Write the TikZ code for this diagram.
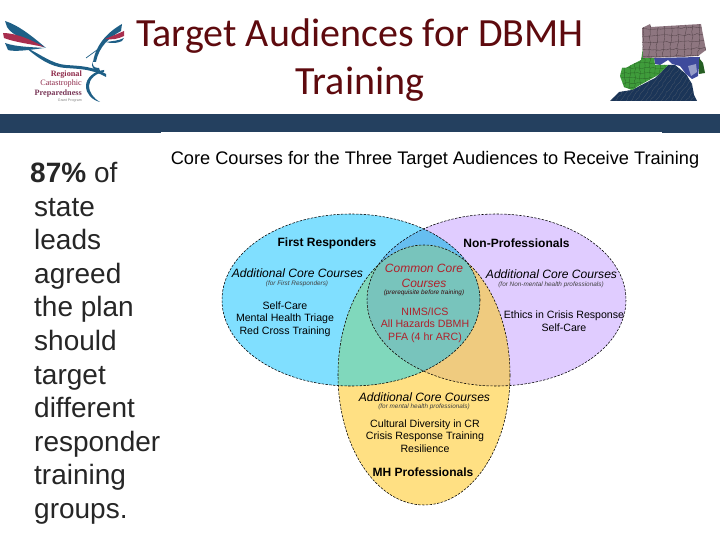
\documentclass[tikz,border=0pt]{standalone}
\usepackage{fontspec}
\setmainfont{Liberation Sans}
\newfontfamily\titlefont{Carlito}
\newfontfamily\logofont{Liberation Serif}
\usetikzlibrary{decorations.pathmorphing}
\definecolor{barblue}{HTML}{24405F}
\definecolor{titlered}{HTML}{5E0A0E}
\definecolor{cyanset}{HTML}{80DFFF}
\definecolor{purpset}{HTML}{E0CCFF}
\definecolor{yelset}{HTML}{FFE083}
\definecolor{lrset}{HTML}{66BEF0}
\definecolor{lbset}{HTML}{80D8BC}
\definecolor{rbset}{HTML}{EFCB7F}
\definecolor{allset}{HTML}{78C4BC}
\definecolor{corered}{HTML}{B0202A}
\definecolor{birdblue}{HTML}{1E5F86}
\definecolor{birdred}{HTML}{A82E4E}
\definecolor{logored}{HTML}{8E2A4A}
\definecolor{pabrown}{HTML}{8E7680}
\definecolor{countyline}{HTML}{54444A}
\definecolor{wvgreen}{HTML}{3F9C3B}
\definecolor{vanavy}{HTML}{1B3558}
\definecolor{mdblue}{HTML}{3E4A9C}
\tikzset{
  ringline/.style={draw=black,line width=0.55pt,dash pattern=on 2.4pt off 1.4pt},
  lab/.style={inner sep=0pt,text=black,font=\fontsize{10.6}{12.6}\selectfont,align=center},
  headlab/.style={inner sep=0pt,text=black,font=\bfseries\fontsize{12}{13}\selectfont},
  addlab/.style={inner sep=0pt,text=black,font=\itshape\fontsize{12.1}{13}\selectfont},
  tinylab/.style={inner sep=0pt,text=black!75,font=\itshape\fontsize{6.4}{7}\selectfont},
  redlab/.style={inner sep=0pt,text=corered,font=\fontsize{10.6}{12.6}\selectfont,align=center},
  wing/.style={fill=birdblue,draw=none},
  wingred/.style={fill=birdred,draw=none},
  county/.style={draw=countyline,line width=0.35pt,decorate,decoration={random steps,segment length=3pt,amplitude=0.8pt}},
}
\begin{document}
\begin{tikzpicture}[x=1pt,y=-1pt]
\useasboundingbox (0,0) rectangle (720,540);
\fill[white] (0,0) rectangle (720,540);
% top bar
\fill[barblue] (0,114) rectangle (720,133);
\fill[white] (161,132) rectangle (662,134);
% title
\node[inner sep=0pt,text=titlered,align=center,font=\titlefont\fontsize{40}{48}\selectfont] (title) at (360,60) {Target Audiences for DBMH\\Training};
% body
\node[inner sep=0pt,anchor=north west,align=left,text=black!85,font=\fontsize{28}{33.6}\selectfont] (body) at (34,162) {\hspace*{-4pt}\textbf{87\%} of\\state\\leads\\agreed\\the plan\\should\\target\\different\\responder\\training\\groups.};
% heading
\node[inner sep=0pt,text=black,font=\fontsize{18.2}{20}\selectfont] (head) at (435,160) {Core Courses for the Three Target Audiences to Receive Training};
% venn
\def\setL{(351,300) ellipse [x radius=129,y radius=86]}
\def\setR{(496.5,300) ellipse [x radius=129.5,y radius=86]}
\def\setB{(424,375) ellipse [x radius=86,y radius=130]}
\fill[cyanset] \setL;
\fill[purpset] \setR;
\fill[yelset] \setB;
\begin{scope}\clip \setL; \fill[lrset] \setR; \fill[lbset] \setB; \end{scope}
\begin{scope}\clip \setR; \fill[rbset] \setB; \end{scope}
\begin{scope}\clip \setL; \clip \setR; \fill[allset] \setB; \end{scope}
\draw[ringline] \setL;
\draw[ringline] \setR;
\draw[ringline] \setB;
% venn labels
\node[headlab] (fr) at (327,243) {First Responders};
\node[headlab] (np) at (516.5,243) {Non-Professionals};
\node[addlab] (acl) at (297.5,273) {Additional Core Courses};
\node[tinylab] (acls) at (297,284) {(for First Responders)};
\node[lab] (lefttxt) at (285,319) {Self-Care\\Mental Health Triage\\Red Cross Training};
\node[addlab] (acr) at (551.5,274) {Additional Core Courses};
\node[tinylab] (acrs) at (551,285) {(for Non-mental health professionals)};
\node[lab] (righttxt) at (564,321) {Ethics in Crisis Response\\Self-Care};
\node[inner sep=0pt,text=corered,align=center,font=\itshape\fontsize{12}{15}\selectfont] (cc) at (424,276) {Common Core\\Courses};
\node[tinylab,text=black!70!corered] (ccs) at (424,293) {(prerequisite before training)};
\node[redlab] (nims) at (425,325) {NIMS/ICS\\All Hazards DBMH\\PFA (4 hr ARC)};
\node[addlab] (acb) at (424.5,397) {Additional Core Courses};
\node[tinylab] (acbs) at (424,407) {(for mental health professionals)};
\node[lab] (bottxt) at (425,436) {Cultural Diversity in CR\\Crisis Response Training\\Resilience};
\node[headlab] (mh) at (423,472) {MH Professionals};
% logo
\fill[wing] (5,21) .. controls (18,25) and (32,36) .. (46,48) .. controls (30,42) and (12,36) .. (7,27) -- cycle;
\fill[wingred] (3,33) .. controls (16,33) and (32,40) .. (44,47) .. controls (30,44) and (14,42) .. (4,38) -- cycle;
\fill[wing] (5,43) .. controls (16,47) and (32,47) .. (44,48) .. controls (30,50) and (14,52) .. (8,50) -- cycle;
\fill[wing] (25,47) .. controls (40,54) and (52,64) .. (66,65) .. controls (80,66) and (92,66) .. (106,74) -- (106,77) .. controls (92,69) and (80,69) .. (66,68) .. controls (50,67) and (38,58) .. (25,47) -- cycle;
\fill[wing] (122,24) .. controls (108,32) and (96,44) .. (93,62) -- (96,62) .. controls (99,46) and (110,37) .. (121,31) -- cycle;
\draw[birdblue,line width=0.7pt] (97,50) -- (86,58);
\fill[wingred] (124,31) .. controls (115,35) and (110,37) .. (105,39) .. controls (112,40) and (118,39) .. (124,36) -- cycle;
\fill[wing] (124,38) .. controls (118,41) and (112,41) .. (106,42) .. controls (112,44) and (118,43) .. (122,41) -- cycle;
\fill[wing] (93,61) .. controls (92,66) and (94,68) .. (99,68) -- (100,71) .. controls (94,71) and (90,67) .. (93,61) -- cycle;
\fill[wing] (104,70) .. controls (94,71) and (86,78) .. (86,86) .. controls (86,94) and (92,100) .. (100,102) .. controls (93,98) and (89,92) .. (89,86) .. controls (89,79) and (96,73) .. (104,72) -- cycle;
\node[inner sep=0pt,anchor=east,text=logored,font=\logofont\bfseries\fontsize{8.2}{9}\selectfont] (rg) at (82,75) {Regional};
\node[inner sep=0pt,anchor=east,text=logored,font=\logofont\fontsize{8.2}{9}\selectfont] (ct) at (82,84) {Catastrophic};
\node[inner sep=0pt,anchor=east,text=logored!80!birdblue,font=\logofont\bfseries\fontsize{8.2}{9}\selectfont] (pr) at (82,93.5) {Preparedness};
\node[inner sep=0pt,anchor=east,text=gray,font=\fontsize{3.6}{4}\selectfont] (gp) at (82,100.5) {Grant Program};
% map
\def\mapVA{(610,101) -- (619,92) -- (632,90) -- (655,78) -- (668,65) -- (675,65) -- (686,74) -- (692,84) -- (694,95) -- (697,101) -- cycle}
\def\mapMD{(654,58) -- (700,57) -- (698,76) -- (692,79) -- (686,74) -- (680,66) -- (672,64) -- (668,60) -- (660,65) -- (655,64) -- cycle}
\def\mapWV{(643,48) -- (645,57) -- (654,58) -- (655,65) -- (668,65) -- (658,75) -- (640,85) -- (632,90) -- (624,87) -- (620,76) -- (622,68) -- (626,68) -- (631,65) -- (641,60) -- cycle}
\def\mapPA{(642,28) -- (650,24) -- (651,27) -- (701,24) -- (703,35) -- (706,50) -- (698,56) -- (680,57) -- (643,58) -- cycle}
\fill[vanavy] \mapVA;
\begin{scope}\clip \mapVA;
 \foreach \i in {0,5,...,90}{\draw[county,draw=black!25!vanavy!80!white] (610+\i,102) -- (640+\i,60);}
\end{scope}
\fill[mdblue] \mapMD;
\fill[mdblue!55!white] (688,66) -- (696,64) -- (697,72) -- (691,76) -- cycle;
\fill[wvgreen!60!black] (699,58) -- (703,63) -- (705,73) -- (699,74) -- cycle;
\fill[wvgreen] \mapWV;
\begin{scope}\clip \mapWV;
 \foreach \i in {0,5,...,45}{\draw[county,draw=wvgreen!70!black] (620,48+\i) -- (670,48+\i);}
 \foreach \i in {0,5,...,50}{\draw[county,draw=wvgreen!70!black] (620+\i,48) -- (620+\i,92);}
\end{scope}
\fill[pabrown] \mapPA;
\begin{scope}\clip \mapPA;
 \foreach \i in {0,7,14,21,28}{\draw[county] (640,29+\i) -- (708,27+\i);}
 \foreach \i in {0,7,...,63}{\draw[county] (644+\i,22) -- (642+\i,60);}
\end{scope}
\end{tikzpicture}
\end{document}
